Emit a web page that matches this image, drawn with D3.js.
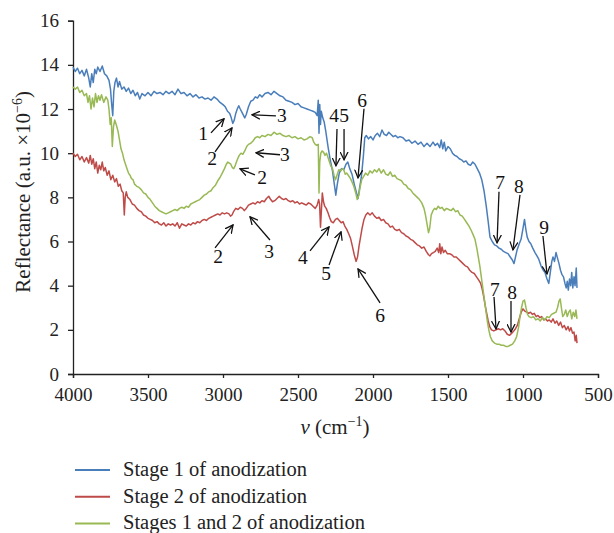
<!DOCTYPE html>
<html>
<head>
<meta charset="utf-8">
<script src="https://cdn.jsdelivr.net/npm/d3@7"></script>
<style>
  body { margin: 0; background: #fff; }
  svg { display: block; font-family: "Liberation Serif", "DejaVu Serif", serif; }
  svg text { font-family: "Liberation Serif", "DejaVu Serif", serif !important; }
</style>
</head>
<body>
<svg id="chart" width="614" height="533"></svg>
<script>
// Stage 1 of anodization: [wavenumber, reflectance]
const stage1 = [
  [4000,13.9],[3985,13.7],[3970,13.85],[3955,13.6],[3940,13.75],[3925,13.5],[3910,13.8],[3895,13.4],
  [3885,13.0],[3875,13.6],[3865,13.2],[3855,13.8],[3845,13.6],[3835,13.9],[3820,13.7],[3805,13.95],
  [3790,13.6],[3775,13.5],[3760,13.3],[3750,12.9],[3742,12.2],[3735,11.7],[3728,12.8],[3720,13.2],
  [3710,13.4],[3700,13.0],[3690,13.25],[3675,12.9],[3660,13.0],[3645,12.8],[3630,12.95],[3615,12.7],
  [3600,12.85],[3585,12.6],[3570,12.75],[3555,12.45],[3540,12.7],[3520,12.6],[3500,12.75],[3480,12.6],
  [3460,12.8],[3440,12.7],[3420,12.75],[3400,12.65],[3380,12.8],[3360,12.7],[3340,12.8],[3320,12.65],
  [3300,12.9],[3280,12.7],[3260,12.75],[3240,12.6],[3220,12.7],[3200,12.55],[3180,12.65],[3160,12.5],
  [3140,12.55],[3120,12.45],[3100,12.5],[3080,12.4],[3060,12.55],[3040,12.45],[3020,12.3],[3000,12.2],
  [2985,12.1],[2970,11.9],[2955,11.8],[2945,11.6],[2935,11.35],[2925,11.5],[2915,11.8],[2905,12.0],
  [2895,12.15],[2885,12.0],[2870,11.8],[2855,11.6],[2845,11.75],[2830,12.1],[2815,12.35],[2800,12.4],
  [2785,12.55],[2770,12.5],[2755,12.65],[2740,12.55],[2720,12.7],[2700,12.75],[2680,12.65],[2660,12.8],
  [2640,12.7],[2620,12.6],[2600,12.55],[2580,12.4],[2560,12.35],[2540,12.3],[2520,12.2],[2500,12.25],
  [2480,12.1],[2460,12.05],[2440,12.0],[2420,11.95],[2400,11.9],[2385,11.85],[2372,11.7],[2365,12.4],
  [2360,10.9],[2355,12.2],[2350,11.3],[2345,11.9],[2335,11.6],[2325,11.4],[2315,11.0],[2300,10.3],
  [2285,9.7],[2270,9.2],[2258,8.6],[2248,8.1],[2238,8.6],[2225,9.1],[2210,9.3],[2195,9.25],
  [2180,9.5],[2168,9.6],[2155,9.3],[2140,9.05],[2125,8.6],[2110,8.2],[2100,7.95],[2090,8.4],
  [2078,8.9],[2065,9.8],[2055,10.7],[2045,10.8],[2030,10.65],[2015,10.75],[2000,10.6],[1985,10.8],
  [1970,10.9],[1955,10.75],[1940,11.05],[1925,10.85],[1910,10.8],[1895,10.95],[1880,10.85],[1865,10.75],
  [1850,10.8],[1835,10.7],[1820,10.75],[1800,10.7],[1780,10.55],[1760,10.6],[1740,10.45],[1720,10.55],
  [1700,10.4],[1680,10.5],[1660,10.3],[1640,10.45],[1620,10.3],[1600,10.5],[1585,10.35],[1570,10.45],
  [1555,10.25],[1545,10.6],[1535,10.2],[1525,10.5],[1515,10.1],[1500,10.3],[1485,10.2],[1470,10.0],
  [1455,9.9],[1440,9.85],[1425,9.75],[1410,9.7],[1395,9.6],[1380,9.65],[1365,9.5],[1350,9.45],
  [1335,9.6],[1320,9.5],[1305,9.3],[1290,9.1],[1275,8.8],[1260,8.3],[1245,7.6],[1232,6.9],
  [1220,6.2],[1205,6.0],[1190,5.85],[1175,5.8],[1160,5.7],[1145,5.65],[1130,5.55],[1115,5.5],
  [1100,5.45],[1085,5.3],[1070,5.15],[1060,5.0],[1050,5.3],[1040,5.6],[1025,5.9],[1013,6.1],
  [1000,6.6],[990,7.0],[982,6.6],[972,6.2],[960,6.0],[948,5.9],[935,5.7],[920,5.5],
  [907,5.35],[895,5.2],[880,4.9],[865,4.7],[853,4.6],[840,4.3],[828,4.1],[818,4.6],
  [808,5.1],[800,5.3],[790,5.1],[780,5.5],[770,5.25],[760,5.0],[750,4.7],[740,4.5],
  [730,4.4],[720,4.1],[712,3.9],[705,4.2],[698,3.8],[690,4.3],[682,4.0],[675,4.6],
  [668,3.9],[660,4.4],[653,4.0],[645,4.8],[640,3.9]
];

// Stage 2 of anodization
const stage2 = [
  [4000,10.0],[3985,9.85],[3970,9.95],[3955,9.7],[3940,9.85],[3925,9.6],[3910,9.8],[3895,9.55],
  [3885,9.9],[3875,9.5],[3865,9.75],[3855,9.3],[3845,9.6],[3835,9.1],[3825,9.45],[3815,9.25],
  [3805,9.6],[3795,9.2],[3785,9.35],[3772,9.0],[3760,9.2],[3748,8.8],[3735,9.0],[3722,8.7],
  [3710,8.85],[3698,8.5],[3686,8.6],[3675,8.3],[3665,8.2],[3658,7.2],[3652,8.0],[3645,8.25],
  [3635,8.0],[3620,7.9],[3605,7.7],[3590,7.65],[3575,7.5],[3560,7.4],[3545,7.35],[3530,7.2],
  [3515,7.15],[3500,7.05],[3485,7.0],[3470,6.95],[3455,6.85],[3440,6.9],[3425,6.8],[3410,6.75],
  [3395,6.85],[3380,6.7],[3365,6.8],[3350,6.75],[3335,6.8],[3320,6.7],[3305,6.85],[3290,6.6],
  [3275,6.8],[3260,6.75],[3245,6.7],[3230,6.8],[3215,6.75],[3200,6.85],[3185,6.8],[3170,6.9],
  [3155,6.85],[3140,6.95],[3125,7.0],[3110,6.95],[3095,7.05],[3080,7.1],[3065,7.15],[3050,7.2],
  [3035,7.25],[3020,7.2],[3005,7.3],[2990,7.25],[2975,7.3],[2960,7.25],[2950,7.15],[2940,7.2],
  [2930,7.35],[2915,7.5],[2900,7.45],[2885,7.55],[2870,7.5],[2858,7.4],[2845,7.5],[2830,7.65],
  [2815,7.7],[2800,7.75],[2785,7.7],[2770,7.8],[2755,7.75],[2740,7.85],[2725,7.8],[2710,7.95],
  [2695,8.05],[2682,7.9],[2670,7.8],[2655,7.85],[2640,7.95],[2625,8.05],[2610,7.95],[2595,7.9],
  [2580,7.95],[2565,7.85],[2550,7.8],[2535,7.85],[2520,7.75],[2505,7.8],[2490,7.7],[2475,7.75],
  [2460,7.7],[2445,7.65],[2430,7.75],[2415,7.7],[2400,7.6],[2385,7.5],[2372,7.65],[2362,7.9],
  [2356,7.7],[2350,6.65],[2344,7.4],[2338,8.2],[2330,7.8],[2322,7.6],[2312,7.5],[2300,7.3],
  [2290,7.1],[2278,6.9],[2265,6.85],[2250,7.0],[2238,7.05],[2225,6.95],[2212,6.85],[2200,6.9],
  [2188,6.7],[2175,6.55],[2162,6.35],[2150,6.15],[2138,5.8],[2125,5.4],[2113,5.1],[2103,5.3],
  [2093,5.8],[2083,6.2],[2073,6.6],[2060,7.0],[2048,7.2],[2035,7.3],[2020,7.2],[2005,7.3],
  [1990,7.15],[1975,7.05],[1960,7.1],[1945,6.95],[1930,7.0],[1915,6.85],[1900,6.8],[1885,6.65],
  [1870,6.7],[1855,6.55],[1840,6.5],[1825,6.55],[1810,6.4],[1795,6.35],[1780,6.25],[1765,6.2],
  [1750,6.1],[1735,6.05],[1720,5.95],[1705,5.85],[1690,5.8],[1675,5.7],[1660,5.75],[1645,5.55],
  [1630,5.4],[1620,5.35],[1610,5.45],[1598,5.5],[1585,5.55],[1572,5.7],[1562,5.5],[1555,5.9],
  [1548,5.45],[1540,5.75],[1530,5.5],[1518,5.6],[1505,5.45],[1490,5.45],[1475,5.4],[1460,5.3],
  [1445,5.3],[1430,5.2],[1415,5.1],[1400,5.0],[1385,4.9],[1370,4.85],[1355,4.7],[1340,4.6],
  [1325,4.55],[1310,4.4],[1295,4.25],[1282,4.1],[1272,3.85],[1262,3.5],[1252,3.1],[1242,2.75],
  [1232,2.4],[1222,2.15],[1210,2.0],[1195,1.95],[1180,2.0],[1165,2.05],[1150,2.0],[1135,2.05],
  [1120,1.95],[1105,1.8],[1090,1.75],[1075,1.85],[1062,1.95],[1050,2.05],[1038,2.2],[1025,2.5],
  [1012,2.8],[1000,2.95],[988,2.85],[975,2.8],[962,2.75],[950,2.8],[937,2.7],[925,2.75],
  [912,2.6],[900,2.65],[887,2.55],[875,2.6],[862,2.45],[850,2.5],[837,2.4],[825,2.45],
  [812,2.35],[800,2.5],[787,2.3],[775,2.4],[762,2.2],[750,2.35],[737,2.1],[725,2.2],
  [712,2.0],[700,2.15],[690,1.95],[680,2.1],[670,1.85],[660,1.9],[652,1.5],[645,1.75],[640,1.4]
];

// Stages 1 and 2 of anodization
const stage12 = [
  [4000,13.0],[3985,12.9],[3970,13.0],[3955,12.75],[3940,12.85],[3925,12.6],[3910,12.7],[3900,12.3],
  [3890,12.6],[3880,12.0],[3870,12.5],[3860,12.1],[3850,12.7],[3840,12.3],[3830,12.6],[3820,12.4],
  [3810,12.65],[3795,12.3],[3780,12.55],[3768,12.4],[3760,12.0],[3752,11.3],[3745,11.6],[3738,10.3],
  [3730,11.2],[3722,11.5],[3712,11.3],[3700,11.0],[3690,10.6],[3680,10.2],[3670,10.0],[3660,9.7],
  [3650,9.5],[3640,9.3],[3630,9.1],[3620,9.0],[3610,8.85],[3600,8.8],[3590,8.6],[3575,8.5],
  [3560,8.45],[3545,8.35],[3530,8.2],[3515,8.15],[3500,8.0],[3485,7.9],[3470,7.75],[3455,7.6],
  [3440,7.5],[3425,7.4],[3410,7.35],[3395,7.3],[3380,7.25],[3365,7.3],[3350,7.35],[3335,7.4],
  [3320,7.45],[3305,7.4],[3290,7.5],[3275,7.55],[3260,7.5],[3245,7.6],[3230,7.55],[3215,7.7],
  [3200,7.75],[3185,7.8],[3170,7.85],[3155,7.9],[3140,8.0],[3125,8.1],[3110,8.15],[3095,8.25],
  [3080,8.3],[3065,8.45],[3050,8.55],[3035,8.75],[3020,8.9],[3005,9.1],[2990,9.3],[2978,9.5],
  [2968,9.6],[2958,9.55],[2948,9.5],[2938,9.35],[2928,9.3],[2918,9.45],[2905,9.7],[2892,9.9],
  [2880,10.0],[2868,9.95],[2855,10.1],[2842,10.3],[2830,10.4],[2815,10.45],[2800,10.55],[2785,10.7],
  [2770,10.75],[2755,10.7],[2740,10.8],[2720,10.75],[2700,10.85],[2680,10.8],[2660,10.95],[2640,10.85],
  [2620,10.9],[2600,10.8],[2580,10.75],[2560,10.8],[2540,10.7],[2520,10.75],[2500,10.65],[2480,10.7],
  [2460,10.6],[2440,10.65],[2420,10.75],[2405,10.7],[2395,10.5],[2385,10.4],[2375,10.35],[2365,10.4],
  [2360,8.2],[2355,9.6],[2348,10.0],[2340,10.1],[2330,10.05],[2320,9.9],[2310,10.0],[2300,9.8],
  [2290,9.6],[2280,9.4],[2270,9.3],[2260,9.0],[2250,8.8],[2240,9.0],[2228,9.25],[2215,9.2],
  [2205,9.3],[2195,9.25],[2185,9.05],[2175,9.1],[2165,9.0],[2150,8.85],[2140,8.7],[2128,8.5],
  [2115,8.2],[2105,7.9],[2095,8.1],[2085,8.5],[2075,8.8],[2062,8.95],[2050,9.1],[2035,9.0],
  [2020,9.2],[2005,9.1],[1990,9.25],[1975,9.15],[1960,9.3],[1945,9.1],[1930,9.25],[1915,9.05],
  [1900,9.0],[1885,9.15],[1870,8.95],[1855,9.0],[1840,8.85],[1825,8.8],[1810,8.75],[1795,8.6],
  [1780,8.55],[1765,8.4],[1750,8.35],[1735,8.2],[1720,8.1],[1705,8.0],[1690,7.9],[1675,7.75],
  [1660,7.5],[1650,7.2],[1640,6.8],[1630,6.4],[1622,6.6],[1612,7.2],[1600,7.4],[1590,7.5],
  [1578,7.45],[1565,7.6],[1552,7.5],[1540,7.55],[1525,7.4],[1510,7.5],[1495,7.45],[1480,7.4],
  [1465,7.5],[1450,7.35],[1435,7.4],[1420,7.2],[1405,7.15],[1390,7.0],[1375,6.85],[1360,6.7],
  [1345,6.5],[1332,6.3],[1320,6.1],[1308,5.7],[1298,5.3],[1288,4.9],[1278,4.4],[1268,3.9],
  [1258,3.4],[1248,2.9],[1238,2.4],[1228,2.0],[1218,1.7],[1205,1.5],[1190,1.4],[1175,1.35],
  [1160,1.35],[1145,1.3],[1130,1.3],[1115,1.25],[1100,1.25],[1085,1.3],[1070,1.35],[1055,1.5],
  [1042,1.7],[1030,2.1],[1020,2.6],[1010,3.0],[1000,3.3],[990,3.35],[980,3.0],[970,2.7],
  [960,2.6],[945,2.55],[930,2.6],[915,2.45],[900,2.5],[885,2.4],[870,2.55],[855,2.45],
  [840,2.6],[825,2.55],[810,2.7],[795,2.75],[780,2.8],[770,3.0],[760,3.3],[752,3.4],
  [744,3.0],[735,2.6],[725,2.7],[715,2.9],[705,2.6],[695,2.8],[685,2.9],[675,2.5],
  [665,2.8],[655,2.6],[647,2.9],[640,2.5]
];

const seriesNames = ["Stage 1 of anodization", "Stage 2 of anodization", "Stages 1 and 2 of anodization"];
const seriesColors = ["#4a7ebb", "#be4b48", "#98b954"];
const xTicks = [4000, 3500, 3000, 2500, 2000, 1500, 1000, 500];
const yTicks = [0, 2, 4, 6, 8, 10, 12, 14, 16];

// peak labels: [label, textX, textY, tailX, tailY, headX, headY] in data units
const peakLabels = [
  ["1", 3133, 10.88, 3080, 10.92, 2993, 11.56],
  ["2", 3073, 9.74, 3053, 10.06, 2940, 11.15],
  ["3", 2607, 11.69, 2647, 11.69, 2807, 11.74],
  ["3", 2587, 9.93, 2620, 9.93, 2780, 10.02],
  ["2", 2740, 8.88, 2787, 9.02, 2887, 9.29],
  ["2", 3033, 5.30, 3053, 5.71, 2933, 6.75],
  ["3", 2693, 5.53, 2687, 6.07, 2820, 7.12],
  ["4", 2467, 5.26, 2420, 5.58, 2293, 6.66],
  ["5", 2313, 4.53, 2293, 4.94, 2213, 6.44],
  ["4", 2260, 11.69, 2240, 11.10, 2247, 9.43],
  ["5", 2193, 11.69, 2193, 11.10, 2193, 9.70],
  ["6", 2073, 12.37, 2060, 12.01, 2100, 8.88],
  ["6", 1953, 2.67, 1953, 3.22, 2100, 4.76],
  ["7", 1153, 8.66, 1160, 8.25, 1173, 5.94],
  ["8", 1027, 8.48, 1020, 8.11, 1067, 5.62],
  ["9", 860, 6.62, 867, 6.25, 840, 4.53],
  ["7", 1187, 3.81, 1193, 3.49, 1180, 2.04],
  ["8", 1073, 3.67, 1080, 3.31, 1080, 1.90]
];

const svg = d3.select('#chart');

const x = d3.scaleLinear().domain([4000, 500]).range([73, 598]);
const y = d3.scaleLinear().domain([0, 16]).range([374, 20.7]);

// axes
const xAxis = svg.append('g')
  .attr('transform', `translate(0,${y(0)})`)
  .call(d3.axisBottom(x).tickValues(xTicks).tickSize(4).tickPadding(10).tickFormat(d3.format('d')));
const yAxis = svg.append('g')
  .attr('transform', `translate(${x(4000)},0)`)
  .call(d3.axisLeft(y).tickValues(yTicks).tickSize(5).tickPadding(9));

[xAxis, yAxis].forEach(a => {
  a.attr('font-size', 19);
  a.select('.domain').attr('stroke', '#222').attr('stroke-width', 1.3);
  a.selectAll('.tick line').attr('stroke', '#222').attr('stroke-width', 1.3);
  a.selectAll('.tick text').attr('fill', '#222');
});

// series
const line = d3.line().x(d => x(d[0])).y(d => y(d[1]));
[stage1, stage2, stage12].forEach((data, i) => {
  svg.append('path')
    .datum(data)
    .attr('fill', 'none')
    .attr('stroke', seriesColors[i])
    .attr('stroke-width', 1.5)
    .attr('stroke-linejoin', 'round')
    .attr('d', line);
});

// arrow marker (open chevron)
svg.append('defs').append('marker')
  .attr('id', 'arrow')
  .attr('viewBox', '0 0 10 10')
  .attr('refX', 9).attr('refY', 5)
  .attr('markerWidth', 9).attr('markerHeight', 9)
  .attr('markerUnits', 'userSpaceOnUse')
  .attr('orient', 'auto')
  .append('path')
  .attr('d', 'M0,0.5 L9,5 L0,9.5')
  .attr('fill', 'none')
  .attr('stroke', '#111')
  .attr('stroke-width', 1.4);

const ann = svg.append('g');
ann.selectAll('line')
  .data(peakLabels)
  .enter().append('line')
  .attr('x1', d => x(d[3])).attr('y1', d => y(d[4]))
  .attr('x2', d => x(d[5])).attr('y2', d => y(d[6]))
  .attr('stroke', '#111')
  .attr('stroke-width', 1.3)
  .attr('marker-end', 'url(#arrow)');

ann.selectAll('text')
  .data(peakLabels)
  .enter().append('text')
  .attr('x', d => x(d[1]))
  .attr('y', d => y(d[2]))
  .attr('text-anchor', 'middle')
  .attr('dominant-baseline', 'central')
  .attr('fill', '#111')
  .style('font-size', '19.5px')
  .text(d => d[0]);

// axis titles
const yTitle = svg.append('text')
  .attr('transform', `translate(30,${y(8.25)}) rotate(-90)`)
  .attr('text-anchor', 'middle')
  .attr('fill', '#222')
  .style('font-size', '21px');
yTitle.append('tspan').text('Reflectance (a.u. ×10');
yTitle.append('tspan').attr('dy', -8).style('font-size', '14px').text('−6');
yTitle.append('tspan').attr('dy', 8).text(')');

const xTitle = svg.append('text')
  .attr('x', 335)
  .attr('y', 434)
  .attr('text-anchor', 'middle')
  .attr('fill', '#222')
  .style('font-size', '21px');
xTitle.append('tspan').style('font-style', 'italic').text('ν');
xTitle.append('tspan').text(' (cm');
xTitle.append('tspan').attr('dy', -8).style('font-size', '14px').text('−1');
xTitle.append('tspan').attr('dy', 8).text(')');

// legend
const legend = svg.append('g').attr('transform', 'translate(75,470)');
const item = legend.selectAll('g')
  .data(seriesNames)
  .enter().append('g')
  .attr('transform', (d, i) => `translate(0,${i * 26.7})`);
item.append('line')
  .attr('x1', 0).attr('x2', 35)
  .attr('stroke', (d, i) => seriesColors[i])
  .attr('stroke-width', 2);
item.append('text')
  .attr('x', 48)
  .attr('y', 6)
  .attr('fill', '#222')
  .style('font-size', '20.5px')
  .text(d => d);
</script>
</body>
</html>
